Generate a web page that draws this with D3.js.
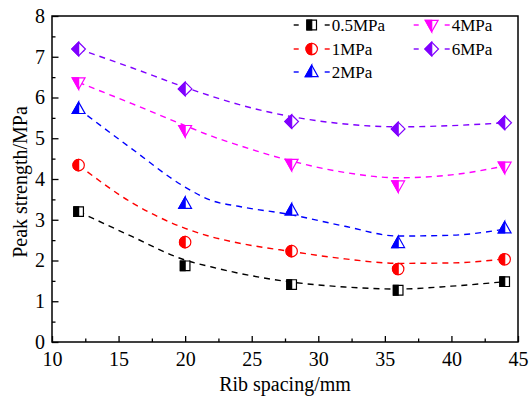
<!DOCTYPE html>
<html>
<head>
<meta charset="utf-8">
<script src="https://cdn.jsdelivr.net/npm/d3@7"></script>
<style>
  body { margin: 0; background: #fff; }
  svg { display: block; }
  text { font-family: "Liberation Serif", "Times New Roman", serif; fill: #000; }
</style>
</head>
<body>
<div id="content"></div>
<script>
// Data

var ribSpacing = [12, 20, 28, 36, 44];
var pressures = ["0.5MPa", "1MPa", "2MPa", "4MPa", "6MPa"];

var peak05 = [3.20, 1.87, 1.41, 1.27, 1.48];
var peak1  = [4.34, 2.45, 2.23, 1.79, 2.03];
var peak2  = [5.72, 3.39, 3.23, 2.43, 2.79];
var peak4  = [6.37, 5.20, 4.37, 3.84, 4.30];
var peak6  = [7.19, 6.21, 5.41, 5.23, 5.38];

// dashed trend curves, read at these x values
var fitX    = [12, 16, 20, 22, 24, 28, 32, 36, 40, 44];
var fit05   = [3.20, 2.59, 2.01, 1.84, 1.69, 1.47, 1.35, 1.30, 1.37, 1.48];
var fit1    = [4.34, 3.42, 2.79, 2.58, 2.43, 2.22, 2.04, 1.93, 1.94, 2.04];
var fit2    = [5.72, 4.74, 3.80, 3.47, 3.33, 3.12, 2.84, 2.60, 2.62, 2.77];
var fit4    = [6.37, 5.85, 5.31, 5.05, 4.83, 4.44, 4.16, 4.03, 4.10, 4.32];
var fit6    = [7.19, 6.73, 6.25, 6.03, 5.83, 5.53, 5.35, 5.28, 5.31, 5.38];

var xTicks = [10, 15, 20, 25, 30, 35, 40, 45];
var yTicks = [0, 1, 2, 3, 4, 5, 6, 7, 8];

var peaks = [peak05, peak1, peak2, peak4, peak6];
var fits  = [fit05, fit1, fit2, fit4, fit6];
var colors = ["#000000", "#ff0000", "#0000ff", "#ff00ff", "#8000ff"];
var shapes = ["square", "circle", "up", "down", "diamond"];

// Graphic parameters
var width = 529, height = 397,
    plotLeft = 52, plotRight = 518, plotTop = 16, plotBottom = 342,
    serif = "'Liberation Serif', 'Times New Roman', serif";

var svg = d3.select("#content").append("svg")
    .attr("width", width)
    .attr("height", height);

var x = d3.scaleLinear().domain([10, 45]).range([plotLeft, plotRight]),
    y = d3.scaleLinear().domain([0, 8]).range([plotBottom, plotTop]);

// marker shapes: outline path and left half path
function shapePaths(s) {
  if (s === "square") return ["M-4.8,-4.8H4.8V4.8H-4.8Z", "M-4.8,-4.8H0V4.8H-4.8Z"];
  if (s === "circle") return ["M0,-5.7A5.7,5.7 0 1 1 0,5.7A5.7,5.7 0 1 1 0,-5.7Z", "M0,-5.7A5.7,5.7 0 0 0 0,5.7Z"];
  if (s === "up")     return ["M0,-6.8L6.4,4.6H-6.4Z", "M0,-6.8V4.6H-6.4Z"];
  if (s === "down")   return ["M0,6.8L6.4,-4.6H-6.4Z", "M0,6.8V-4.6H-6.4Z"];
  return ["M0,-6.8L6.8,0L0,6.8L-6.8,0Z", "M0,-6.8V6.8L-6.8,0Z"];
}

function drawMarker(g, s, c) {
  var p = shapePaths(s);
  g.append("path").attr("d", p[0]).attr("fill", "#fff")
    .attr("stroke", c).attr("stroke-width", 1.2);
  g.append("path").attr("d", p[1]).attr("fill", c)
    .attr("stroke", c).attr("stroke-width", 1.2);
}

// Axes
var axes = svg.append("g").attr("font-family", serif);

axes.append("g")
    .attr("transform", "translate(0," + plotBottom + ")")
    .call(d3.axisBottom(x).tickValues(xTicks).tickSizeInner(-6).tickSizeOuter(0).tickPadding(10));
axes.append("g")
    .attr("transform", "translate(0," + plotBottom + ")")
    .call(d3.axisBottom(x).tickValues(d3.range(12.5, 45, 5)).tickSizeInner(-3.5).tickSizeOuter(0).tickFormat(""));

axes.append("g")
    .attr("transform", "translate(" + plotLeft + ",0)")
    .call(d3.axisLeft(y).tickValues(yTicks).tickSizeInner(-6.5).tickSizeOuter(0).tickPadding(7));
axes.append("g")
    .attr("transform", "translate(" + plotLeft + ",0)")
    .call(d3.axisLeft(y).tickValues(d3.range(0.5, 8, 1)).tickSizeInner(-3.5).tickSizeOuter(0).tickFormat(""));

axes.selectAll("g").attr("font-family", serif).attr("font-size", 20);
axes.selectAll(".domain").remove();
axes.selectAll(".tick line").attr("stroke", "#000").attr("stroke-width", 1.3);
axes.selectAll(".tick text")
    .attr("font-family", serif)
    .style("font-family", serif)
    .style("font-size", "20px")
    .attr("fill", "#000");

svg.append("rect")
    .attr("x", plotLeft).attr("y", plotTop)
    .attr("width", plotRight - plotLeft).attr("height", plotBottom - plotTop)
    .attr("fill", "none").attr("stroke", "#000").attr("stroke-width", 1.5);

svg.append("text")
    .attr("x", (plotLeft + plotRight) / 2).attr("y", 391)
    .attr("text-anchor", "middle")
    .style("font-size", "20px")
    .text("Rib spacing/mm");

svg.append("text")
    .attr("transform", "translate(27," + ((plotTop + plotBottom) / 2 + 3) + ") rotate(-90)")
    .attr("text-anchor", "middle")
    .style("font-size", "20px")
    .text("Peak strength/MPa");

// Curves
var line = d3.line()
    .x(d => x(d[0]))
    .y(d => y(d[1]))
    .curve(d3.curveMonotoneX);

fits.forEach(function(f, i) {
  svg.append("path")
    .datum(fitX.map((v, j) => [v, f[j]]))
    .attr("d", line)
    .attr("fill", "none")
    .attr("stroke", colors[i])
    .attr("stroke-width", 1.4)
    .attr("stroke-dasharray", "6,5");
});

// Points
peaks.forEach(function(p, i) {
  ribSpacing.forEach(function(v, j) {
    var g = svg.append("g")
      .attr("transform", "translate(" + x(v) + "," + y(p[j]) + ")");
    drawMarker(g, shapes[i], colors[i]);
  });
});

// Legend
var legendPos = [[311.7, 25], [311.7, 49], [311.7, 72], [431.7, 25], [431.7, 49]];
pressures.forEach(function(name, i) {
  var cx = legendPos[i][0], cy = legendPos[i][1];
  var g = svg.append("g");
  [[-18, -13], [13, 18]].forEach(function(seg) {
    g.append("line")
      .attr("x1", cx + seg[0]).attr("x2", cx + seg[1])
      .attr("y1", cy).attr("y2", cy)
      .attr("stroke", colors[i]).attr("stroke-width", 1.4);
  });
  drawMarker(g.append("g").attr("transform", "translate(" + cx + "," + cy + ")"), shapes[i], colors[i]);
  g.append("text")
    .attr("x", cx + 20).attr("y", cy + 5.5)
    .style("font-size", "17px")
    .text(name);
});
</script>
</body>
</html>
